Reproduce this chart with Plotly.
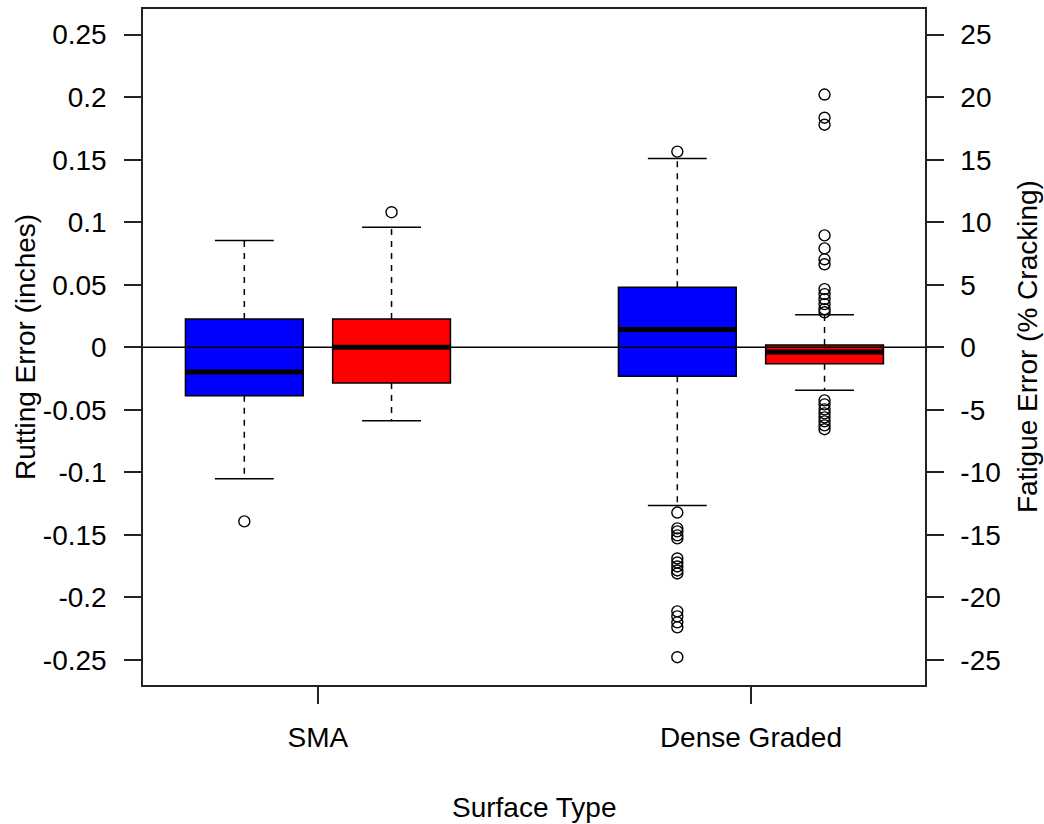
import plotly.graph_objects as go

# surface types on the x axis
categories = ["SMA", "Dense Graded"]

# rutting error (inches) - blue boxes, left axis
rut_q1 = [-0.0388, -0.0231]
rut_median = [-0.0197, 0.0143]
rut_q3 = [0.0226, 0.0481]
rut_lower = [-0.105, -0.1265]
rut_upper = [0.0855, 0.1509]
rut_out_sma = [-0.1392]
rut_out_dense = [0.1565, -0.1321, -0.1448, -0.1472, -0.1504, -0.1528,
                 -0.1688, -0.1720, -0.1752, -0.1784, -0.1808,
                 -0.2111, -0.2151, -0.2199, -0.2239, -0.2478]

# fatigue error (% cracking) - red boxes, right axis
fat_q1 = [-2.85, -1.31]
fat_median = [0.0, -0.37]
fat_q3 = [2.26, 0.18]
fat_lower = [-5.87, -3.44]
fat_upper = [9.59, 2.6]
fat_out_sma = [10.8]
fat_out_dense = [20.21, 18.36, 17.8, 8.95, 7.91, 7.04, 6.64, 4.65, 4.25,
                 3.85, 3.45, 3.05, 2.8,
                 -4.24, -4.56, -4.96, -5.28, -5.6, -5.92, -6.24, -6.55]

y_ticks = [-0.25, -0.2, -0.15, -0.1, -0.05, 0, 0.05, 0.1, 0.15, 0.2, 0.25]
y_ticktext = ["-0.25", "-0.2", "-0.15", "-0.1", "-0.05", "0", "0.05", "0.1", "0.15", "0.2", "0.25"]
y2_ticks = [-25, -20, -15, -10, -5, 0, 5, 10, 15, 20, 25]
y2_ticktext = ["-25", "-20", "-15", "-10", "-5", "0", "5", "10", "15", "20", "25"]

FONT = "Liberation Sans, Arial, sans-serif"
FS = 28
BW = 0.272      # box width in x units
OFF = 0.17      # offset of each box from the category tick
AXC = "#222222"

fig = go.Figure()


def add_group(pos, q1, med, q3, lo, hi, outs, color, yax):
    # whiskers (dashed, like R lty=2)
    fig.add_trace(go.Scatter(x=[pos, pos, None, pos, pos], y=[q3, hi, None, q1, lo],
                             mode="lines", yaxis=yax, hoverinfo="skip",
                             line=dict(color="black", width=1.5, dash="6px,6px")))
    # staples
    fig.add_trace(go.Scatter(x=[pos - BW / 4, pos + BW / 4, None, pos - BW / 4, pos + BW / 4],
                             y=[hi, hi, None, lo, lo], mode="lines", yaxis=yax,
                             hoverinfo="skip", line=dict(color="black", width=1.5)))
    # box body
    fig.add_trace(go.Box(x=[pos], q1=[q1], median=[med], q3=[q3], lowerfence=[q1],
                         upperfence=[q3], width=BW, fillcolor=color, yaxis=yax,
                         line=dict(color="black", width=1.5), whiskerwidth=0,
                         boxpoints=False))
    # thick median
    fig.add_trace(go.Scatter(x=[pos - BW / 2, pos + BW / 2], y=[med, med], mode="lines",
                             yaxis=yax, hoverinfo="skip",
                             line=dict(color="black", width=5)))
    # outliers
    fig.add_trace(go.Scatter(x=[pos] * len(outs), y=outs, mode="markers", yaxis=yax,
                             marker=dict(symbol="circle-open", size=11, color="black",
                                         line=dict(width=1.4))))


rut_outs = [rut_out_sma, rut_out_dense]
fat_outs = [fat_out_sma, fat_out_dense]
for i in range(len(categories)):
    x0 = i + 1
    add_group(x0 - OFF, rut_q1[i], rut_median[i], rut_q3[i], rut_lower[i], rut_upper[i],
              rut_outs[i], "#0000ff", "y")
    add_group(x0 + OFF, fat_q1[i], fat_median[i], fat_q3[i], fat_lower[i], fat_upper[i],
              fat_outs[i], "#ff0000", "y2")

# abline(h=0)
fig.add_shape(type="line", xref="paper", x0=0, x1=1, yref="y", y0=0, y1=0,
              line=dict(color="black", width=1.5), layer="above")

axis_common = dict(showgrid=False, zeroline=False, showline=True, linecolor=AXC,
                   linewidth=1.5, ticks="outside", ticklen=17, tickwidth=1.5,
                   tickcolor=AXC, tickfont=dict(family=FONT, size=FS, color="black"))

fig.update_layout(
    width=1044, height=824,
    margin=dict(l=143, r=119, t=7, b=139),
    plot_bgcolor="white", paper_bgcolor="white",
    showlegend=False, boxmode="overlay",
    xaxis=dict(range=[0.596, 2.402], tickvals=[1, 2], ticktext=categories,
               mirror=True, ticklabelstandoff=10, **axis_common),
    yaxis=dict(range=[-0.27, 0.2705], tickvals=y_ticks, ticktext=y_ticktext,
               ticklabelstandoff=12, **axis_common),
    yaxis2=dict(range=[-27, 27.05], tickvals=y2_ticks, ticktext=y2_ticktext,
                overlaying="y", side="right", ticklabelstandoff=11, **axis_common),
    annotations=[
        dict(text="Surface Type", xref="paper", yref="paper", x=0.5, y=-0.181,
             xanchor="center", yanchor="middle", showarrow=False,
             font=dict(family=FONT, size=FS, color="black")),
        dict(text="Rutting Error (inches)", xref="paper", yref="paper", x=-0.151, y=0.5,
             xanchor="center", yanchor="middle", textangle=-90, showarrow=False,
             font=dict(family=FONT, size=FS, color="black")),
        dict(text="Fatigue Error (% Cracking)", xref="paper", yref="paper", x=1.1305, y=0.5,
             xanchor="center", yanchor="middle", textangle=-90, showarrow=False,
             font=dict(family=FONT, size=FS, color="black")),
    ],
)

# drop the page's default body margin so the figure sits at the window corner
fig.write_html("out.html", config={"displayModeBar": False},
               post_script="document.body.style.margin='0px';")
